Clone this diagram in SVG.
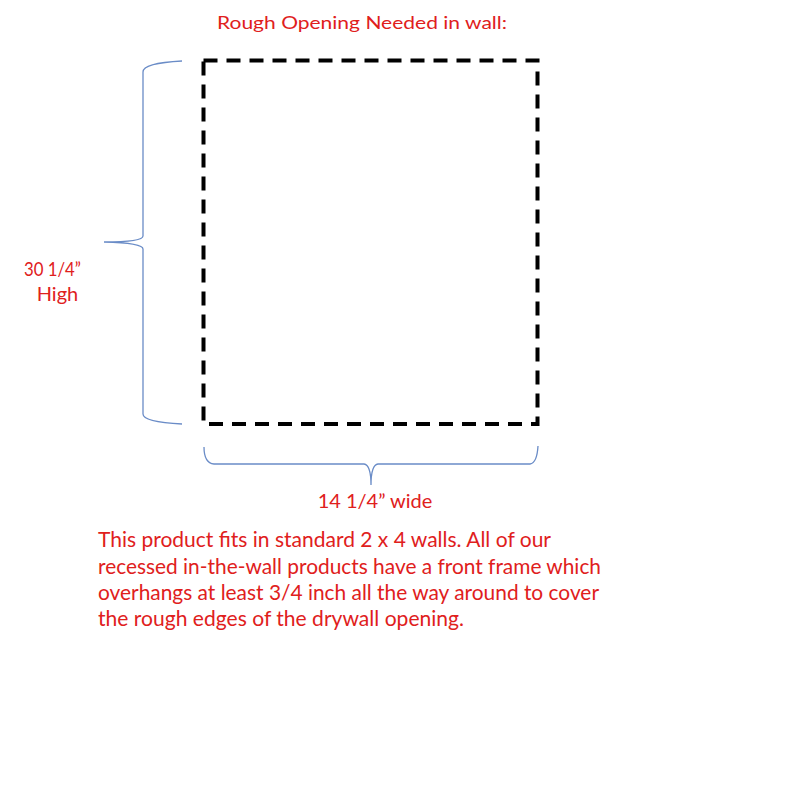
<svg xmlns="http://www.w3.org/2000/svg" width="793" height="793" viewBox="0 0 793 793">
<style>
.t{font-family:Lato,"Open Sans","Liberation Sans",sans-serif;fill:#e0201c}
.brace{fill:none;stroke:#6a8cc7;stroke-width:1.3}
</style>
<rect width="793" height="793" fill="#ffffff"/>
<g id="title"><text class="t" x="217" y="29" font-size="17.5" textLength="290" lengthAdjust="spacingAndGlyphs">Rough Opening Needed in wall:</text></g>
<g id="opening"><rect x="203.5" y="60.5" width="334" height="363.5" fill="none" stroke="#000" stroke-width="4" stroke-dasharray="14 9"/></g>
<g id="connectors">
<path class="brace" d="M182 61 Q143 63 143 72 L143 236 Q143 242 104 242 Q143 243 143 249 L143 414 Q143 422 182 424"/>
<path class="brace" d="M204 447 Q204 463 214 464 L364 464 Q371 465 371 485 Q371 465 378 464 L530 464 Q537 463 538 446"/>
</g>
<g id="height-label">
<text class="t" x="24" y="276" font-size="20" textLength="57" lengthAdjust="spacingAndGlyphs">30 1/4”</text>
<text class="t" x="57.5" y="301" font-size="20" text-anchor="middle">High</text>
</g>
<g id="width-label"><text class="t" x="375" y="508" font-size="20" text-anchor="middle">14 1/4” wide</text></g>
<g id="note">
<text class="t" x="98" y="547" font-size="20.5" textLength="453" lengthAdjust="spacingAndGlyphs">This product fits in standard 2 x 4 walls.  All of our</text>
<text class="t" x="98" y="574" font-size="20.5" textLength="503" lengthAdjust="spacingAndGlyphs">recessed in-the-wall products have a front frame which</text>
<text class="t" x="98" y="600" font-size="20.5" textLength="501" lengthAdjust="spacingAndGlyphs">overhangs at least 3/4 inch all the way around to cover</text>
<text class="t" x="98" y="626" font-size="20.5" textLength="366" lengthAdjust="spacingAndGlyphs">the rough edges of the drywall opening.</text>
</g>
</svg>
